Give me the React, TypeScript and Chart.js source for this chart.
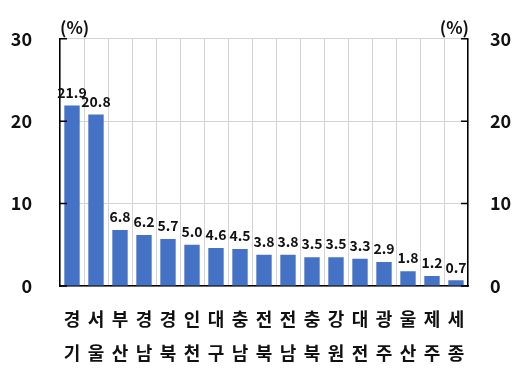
import React, { useEffect, useRef } from "react";
import { Chart, registerables } from "chart.js";

Chart.register(...registerables);

// Regional share (%), sorted from largest to smallest
const regions: string[][] = [
  ["경", "기"], ["서", "울"], ["부", "산"], ["경", "남"], ["경", "북"], ["인", "천"],
  ["대", "구"], ["충", "남"], ["전", "북"], ["전", "남"], ["충", "북"], ["강", "원"],
  ["대", "전"], ["광", "주"], ["울", "산"], ["제", "주"], ["세", "종"],
];
const shares: number[] = [21.9, 20.8, 6.8, 6.2, 5.7, 5.0, 4.6, 4.5, 3.8, 3.8, 3.5, 3.5, 3.3, 2.9, 1.8, 1.2, 0.7];
const axisTicks: number[] = [0, 10, 20, 30];
const unitLabel = "(%)";

const FONT = "'Noto Sans CJK KR', 'Noto Sans', sans-serif";
const BAR_COLOR = "#4472C4";
const GRID_COLOR = "#d4d4d4";

// Value labels above bars, unit captions and inward tick marks
const decorations = {
  id: "decorations",
  afterDatasetsDraw(chart: any) {
    const { ctx, chartArea, scales } = chart;
    const meta = chart.getDatasetMeta(0);
    ctx.save();
    ctx.fillStyle = "#111";
    ctx.font = `bold 14px ${FONT}`;
    ctx.textAlign = "center";
    ctx.textBaseline = "bottom";
    meta.data.forEach((bar: any, i: number) => {
      ctx.fillText(shares[i].toFixed(1), bar.x, bar.y - 6);
    });

    ctx.font = `bold 17px ${FONT}`;
    ctx.textBaseline = "bottom";
    ctx.textAlign = "left";
    ctx.fillText(unitLabel, chartArea.left, chartArea.top - 3);
    ctx.textAlign = "right";
    ctx.fillText(unitLabel, chartArea.right + 1, chartArea.top - 3);

    ctx.strokeStyle = "#000";
    ctx.lineWidth = 1.5;
    axisTicks.forEach((v) => {
      const y = scales.y.getPixelForValue(v);
      ctx.beginPath();
      ctx.moveTo(chartArea.left, y);
      ctx.lineTo(chartArea.left + 7, y);
      ctx.moveTo(chartArea.right, y);
      ctx.lineTo(chartArea.right - 7, y);
      ctx.stroke();
    });
    ctx.restore();
  },
};

export default function App() {
  const canvasRef = useRef<HTMLCanvasElement | null>(null);

  useEffect(() => {
    document.body.style.margin = "0";
    const canvas = canvasRef.current;
    if (!canvas) return;
    const tickFont = { family: FONT, size: 18, weight: "bold" as const };
    const chart = new Chart(canvas, {
      type: "bar",
      data: {
        labels: regions,
        datasets: [
          {
            data: shares,
            backgroundColor: BAR_COLOR,
            borderWidth: 0,
            categoryPercentage: 1,
            barPercentage: 0.64,
            yAxisID: "y",
          },
        ],
      },
      options: {
        animation: false,
        responsive: false,
        devicePixelRatio: 1,
        layout: { padding: { top: 37, left: 0, right: 0, bottom: 0 } },
        plugins: { legend: { display: false }, tooltip: { enabled: false } },
        scales: {
          x: {
            offset: true,
            grid: { color: GRID_COLOR, offset: true, drawTicks: false, lineWidth: 1 },
            border: { color: "#000", width: 1.5 },
            ticks: {
              font: { ...tickFont, size: 18, lineHeight: "34px" },
              color: "#111",
              padding: 16,
              maxRotation: 0,
              autoSkip: false,
            },
            afterFit(scale: any) {
              scale.height = 83;
            },
          },
          y: {
            position: "left",
            min: 0,
            max: 30,
            grid: { color: GRID_COLOR, drawTicks: false },
            border: { color: "#000", width: 1.5 },
            ticks: { stepSize: 10, font: tickFont, color: "#111", padding: 28 },
            afterFit(scale: any) {
              scale.width = 60;
            },
          },
          y1: {
            position: "right",
            min: 0,
            max: 30,
            grid: { drawOnChartArea: false, drawTicks: false },
            border: { color: "#000", width: 1.5 },
            ticks: { stepSize: 10, font: tickFont, color: "#111", padding: 22 },
            afterFit(scale: any) {
              scale.width = 53;
            },
          },
        },
      },
      plugins: [decorations],
    });
    return () => chart.destroy();
  }, []);

  return (
    <div style={{ position: "absolute", left: 0, top: 0, width: 521, height: 369, background: "#fff" }}>
      <canvas ref={canvasRef} width={521} height={369} style={{ width: 521, height: 369 }} />
    </div>
  );
}
